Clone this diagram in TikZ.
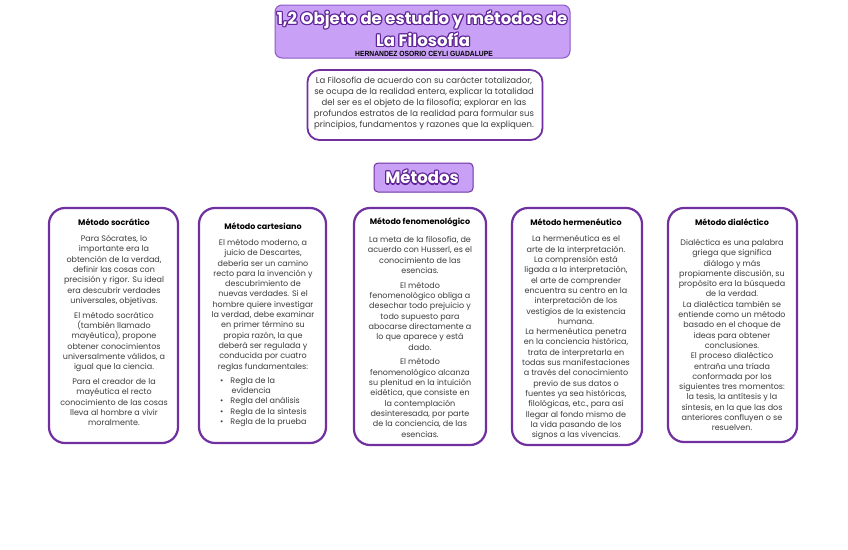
\documentclass[tikz,border=0pt]{standalone}
\usepackage{fontspec}
\setmainfont{Poppins}
\newfontfamily\authorfont[FakeStretch=0.9]{Liberation Sans}
\definecolor{lav}{RGB}{200,160,245}
\definecolor{lavedge}{RGB}{140,90,200}
\definecolor{boxpurple}{RGB}{112,48,160}
\definecolor{titleedge}{RGB}{95,35,150}
\definecolor{bodygray}{RGB}{60,60,60}
\tikzset{
  colbox/.style={draw=boxpurple, line width=2.2pt, rounded corners=16pt, fill=white, inner sep=0pt},
  lavbox/.style={draw=lavedge, line width=1pt, rounded corners=7pt, fill=lav, inner sep=0pt},
  body/.style={font=\fontsize{8}{10.3}\selectfont, text=bodygray, align=center, inner sep=0pt, anchor=north},
  head/.style={font=\bfseries\fontsize{8}{9}\selectfont, inner sep=0pt, text=black},
  ttext/.style={font=\bfseries\fontsize{16.5}{18}\selectfont, inner sep=0pt},
}
\begin{document}
\begin{tikzpicture}[x=1pt,y=-1pt]
\useasboundingbox (0,0) rectangle (848,549);
\fill[white] (0,0) rectangle (848,549);

% title box
\node[lavbox, minimum width=295pt, minimum height=53pt] (titlebox) at (422.5,31.5) {};
\foreach \a in {0,45,...,315} {
  \node[ttext, text=titleedge, shift={(\a:1.2)}] (tA\a) at (422,20) {1,2 Objeto de estudio y métodos de};
  \node[ttext, text=titleedge, shift={(\a:1.2)}] (tB\a) at (423,39.5) {La Filosofía};
}
\node[ttext, text=white] (title1) at (422,20) {1,2 Objeto de estudio y métodos de};
\node[ttext, text=white] (title2) at (423,39.5) {La Filosofía};
\node[font=\authorfont\bfseries\fontsize{7.5}{9}\selectfont, inner sep=0pt] (author) at (424,53.5) {HERNANDEZ OSORIO CEYLI GUADALUPE};

% intro box
\node[colbox, line width=1.8pt, rounded corners=12pt, minimum width=235pt, minimum height=70pt] (introbox) at (425,105) {};
\node[body, font=\fontsize{8.5}{11}\selectfont] (intro) at (424,77) {La Filosofía de acuerdo con su carácter totalizador,\\
se ocupa de la realidad entera, explicar la totalidad\\
del ser es el objeto de la filosofía; explorar en las\\
profundos estratos de la realidad para formular sus\\
principios, fundamentos y razones que la expliquen.};

% metodos box
\node[lavbox, draw=boxpurple, line width=1pt, rounded corners=4pt, minimum width=99pt, minimum height=29pt] (metbox) at (423.5,177.5) {};
\foreach \a in {0,45,...,315} {
  \node[ttext, text=titleedge, shift={(\a:1.2)}] (mA\a) at (422,177) {Métodos};
}
\node[ttext, text=white] (met) at (422,177) {Métodos};

% columns
\node[colbox, minimum width=129pt, minimum height=235pt] (b1) at (113.5,325.5) {};
\node[colbox, minimum width=127pt, minimum height=235pt] (b2) at (262.5,325.5) {};
\node[colbox, minimum width=132pt, minimum height=237pt] (b3) at (420,326.5) {};
\node[colbox, minimum width=130pt, minimum height=237pt] (b4) at (577,326.5) {};
\node[colbox, minimum width=129pt, minimum height=234pt] (b5) at (732.5,325) {};

% column 1
\node[head] (h1) at (114,222) {Método socrático};
\node[body] (t1) at (114,235) {Para Sócrates, lo\\
importante era la\\
obtención de la verdad,\\
definir las cosas con\\
precisión y rigor. Su ideal\\
era descubrir verdades\\
universales, objetivas.\\[4.6pt]
El método socrático\\
(también llamado\\
mayéutica), propone\\
obtener conocimientos\\
universalmente válidos, a\\
igual que la ciencia.\\[4.6pt]
Para el creador de la\\
mayéutica el recto\\
conocimiento de las cosas\\
lleva al hombre a vivir\\
moralmente.};

% column 2
\node[head] (h2) at (263,226) {Método cartesiano};
\node[body] (t2) at (263,239) {El método moderno, a\\
juicio de Descartes,\\
debería ser un camino\\
recto para la invención y\\
descubrimiento de\\
nuevas verdades. Si el\\
hombre quiere investigar\\
la verdad, debe examinar\\
en primer término su\\
propia razón, la que\\
deberá ser regulada y\\
conducida por cuatro\\
reglas fundamentales:};
\node[body, align=left, anchor=north west] (t2b) at (220,377) {\textbullet\hspace{7pt}Regla de la\\
\hspace{11.5pt}evidencia\\
\textbullet\hspace{7pt}Regla del análisis\\
\textbullet\hspace{7pt}Regla de la síntesis\\
\textbullet\hspace{7pt}Regla de la prueba};

% column 3
\node[head] (h3) at (420,222) {Método fenomenológico};
\node[body] (t3) at (420,236) {La meta de la filosofía, de\\
acuerdo con Husserl, es el\\
conocimiento de las\\
esencias.\\[4.6pt]
El método\\
fenomenológico obliga a\\
desechar todo prejuicio y\\
todo supuesto para\\
abocarse directamente a\\
lo que aparece y está\\
dado.\\[4.6pt]
El método\\
fenomenológico alcanza\\
su plenitud en la intuición\\
eidética, que consiste en\\
la contemplación\\
desinteresada, por parte\\
de la conciencia, de las\\
esencias.};

% column 4
\node[head] (h4) at (576,222) {Método hermenéutico};
\node[body] (t4) at (576,235.5) {La hermenéutica es el\\
arte de la interpretación.\\
La comprensión está\\
ligada a la interpretación,\\
el arte de comprender\\
encuentra su centro en la\\
interpretación de los\\
vestigios de la existencia\\
humana.\\
La hermenéutica penetra\\
en la conciencia histórica,\\
trata de interpretarla en\\
todas sus manifestaciones\\
a través del conocimiento\\
previo de sus datos o\\
fuentes ya sea históricas,\\
filológicas, etc., para así\\
llegar al fondo mismo de\\
la vida pasando de los\\
signos a las vivencias.};

% column 5
\node[head] (h5) at (732,222) {Método dialéctico};
\node[body] (t5) at (732,239) {Dialéctica es una palabra\\
griega que significa\\
diálogo y más\\
propiamente discusión, su\\
propósito era la búsqueda\\
de la verdad.\\
La dialéctica también se\\
entiende como un método\\
basado en el choque de\\
ideas para obtener\\
conclusiones.\\
El proceso dialéctico\\
entraña una tríada\\
conformada por los\\
siguientes tres momentos:\\
la tesis, la antítesis y la\\
síntesis, en la que las dos\\
anteriores confluyen o se\\
resuelven.};
\end{tikzpicture}
\end{document}
